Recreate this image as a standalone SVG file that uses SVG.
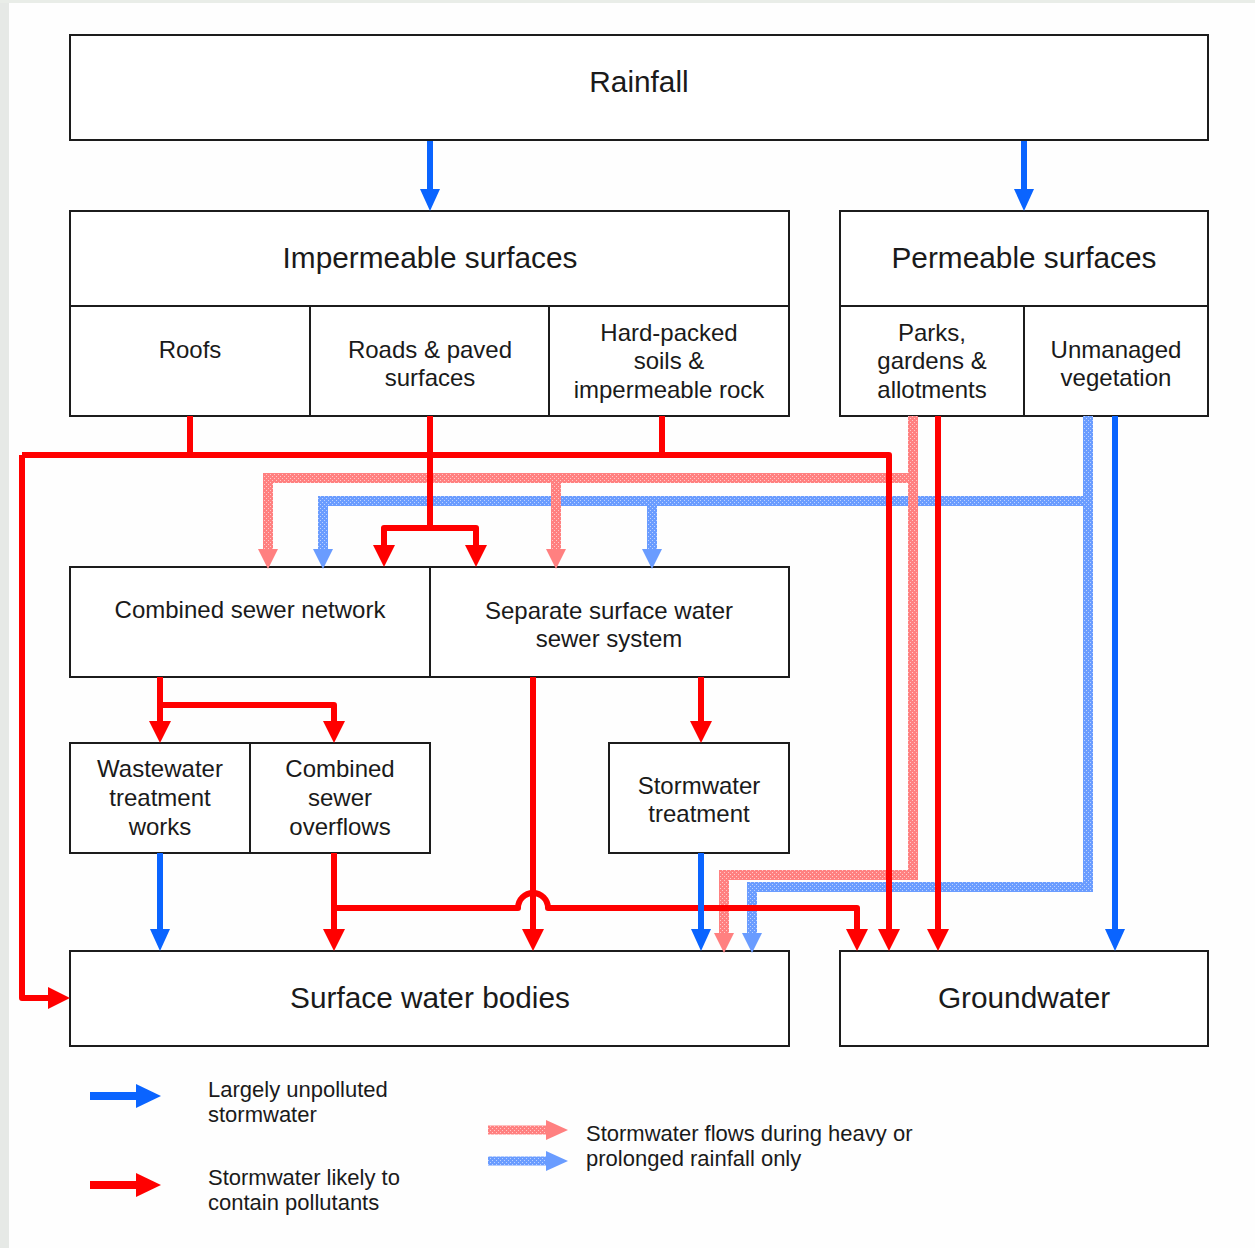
<svg xmlns="http://www.w3.org/2000/svg" width="1255" height="1248" viewBox="0 0 1255 1248">
<style>
.box{fill:#ffffff;stroke:#1c1c1c;stroke-width:2}
.div{stroke:#1c1c1c;stroke-width:2;fill:none}
text{font-family:"Liberation Sans",Arial,sans-serif;fill:#1a1a1a;text-anchor:middle}
.h{font-size:29.8px}
.s{font-size:24px}
.lg{font-size:22px;text-anchor:start}
.red{fill:none;stroke:#ff0000;stroke-width:6;stroke-linejoin:round}
.blue{fill:none;stroke:#0a64ff;stroke-width:6;stroke-linejoin:round}
.pink{fill:none;stroke:url(#pinkHatch);stroke-width:10;stroke-linejoin:miter}
.lblue{fill:none;stroke:url(#blueHatch);stroke-width:10;stroke-linejoin:miter}
</style>
<defs>
<pattern id="pinkHatch" width="4" height="4" patternUnits="userSpaceOnUse">
<rect width="4" height="4" fill="#ff8080"/>
<rect x="0" y="0" width="1" height="1" fill="#ffc8c8"/>
<rect x="2" y="2" width="1" height="1" fill="#ffc8c8"/>
</pattern>
<pattern id="blueHatch" width="4" height="4" patternUnits="userSpaceOnUse">
<rect width="4" height="4" fill="#6a9cff"/>
<rect x="0" y="0" width="1" height="1" fill="#bcd2ff"/>
<rect x="2" y="2" width="1" height="1" fill="#bcd2ff"/>
</pattern>
<marker id="aRed" viewBox="0 0 22 22" markerWidth="22" markerHeight="22" markerUnits="userSpaceOnUse" refX="10" refY="11" orient="auto">
<path d="M0,0 L22,11 L0,22 Z" fill="#ff0000"/>
</marker>
<marker id="aBlue" viewBox="0 0 22 22" markerWidth="22" markerHeight="22" markerUnits="userSpaceOnUse" refX="10" refY="11" orient="auto">
<path d="M0,1 L22,11 L0,21 Z" fill="#0a64ff"/>
</marker>
<marker id="aPink" viewBox="0 0 20 20" markerWidth="20" markerHeight="20" markerUnits="userSpaceOnUse" refX="8" refY="10" orient="auto">
<path d="M0,0 L20,10 L0,20 Z" fill="#ff8080"/>
</marker>
<marker id="aLBlue" viewBox="0 0 20 20" markerWidth="20" markerHeight="20" markerUnits="userSpaceOnUse" refX="8" refY="10" orient="auto">
<path d="M0,0 L20,10 L0,20 Z" fill="#6a9cff"/>
</marker>
</defs>

<rect width="1255" height="1248" fill="#fefefe"/>
<rect x="0" y="0" width="9" height="1248" fill="#e6e9e6"/>
<rect x="0" y="0" width="1255" height="3" fill="#e9ede8"/>

<g id="rainfall">
<rect class="box" x="70" y="35" width="1138" height="105"/>
<text class="h" x="639" y="92">Rainfall</text>
</g>

<g id="impermeable">
<rect class="box" x="70" y="211" width="719" height="205"/>
<path class="div" d="M70,306 H789 M310,306 V416 M549,306 V416"/>
<text class="h" x="430" y="268">Impermeable surfaces</text>
<g id="roofs"><text class="s" x="190" y="358">Roofs</text></g>
<g id="roads"><text class="s" x="430" y="358">Roads &amp; paved</text><text class="s" x="430" y="386">surfaces</text></g>
<g id="hardpacked"><text class="s" x="669" y="341">Hard-packed</text><text class="s" x="669" y="369">soils &amp;</text><text class="s" x="669" y="398">impermeable rock</text></g>
</g>

<g id="permeable">
<rect class="box" x="840" y="211" width="368" height="205"/>
<path class="div" d="M840,306 H1208 M1024,306 V416"/>
<text class="h" x="1024" y="268">Permeable surfaces</text>
<g id="parks"><text class="s" x="932" y="341">Parks,</text><text class="s" x="932" y="369">gardens &amp;</text><text class="s" x="932" y="398">allotments</text></g>
<g id="unmanaged"><text class="s" x="1116" y="358">Unmanaged</text><text class="s" x="1116" y="386">vegetation</text></g>
</g>

<g id="combined-sewer">
<rect class="box" x="70" y="567" width="360" height="110"/>
<text class="s" x="250" y="618">Combined sewer network</text>
</g>

<g id="separate-sewer">
<rect class="box" x="430" y="567" width="359" height="110"/>
<text class="s" x="609" y="619">Separate surface water</text>
<text class="s" x="609" y="647">sewer system</text>
</g>

<g id="wwtw">
<rect class="box" x="70" y="743" width="180" height="110"/>
<text class="s" x="160" y="777">Wastewater</text>
<text class="s" x="160" y="806">treatment</text>
<text class="s" x="160" y="835">works</text>
</g>

<g id="cso">
<rect class="box" x="250" y="743" width="180" height="110"/>
<text class="s" x="340" y="777">Combined</text>
<text class="s" x="340" y="806">sewer</text>
<text class="s" x="340" y="835">overflows</text>
</g>

<g id="stormwater-treatment">
<rect class="box" x="609" y="743" width="180" height="110"/>
<text class="s" x="699" y="794">Stormwater</text>
<text class="s" x="699" y="822">treatment</text>
</g>

<g id="surface-water">
<rect class="box" x="70" y="951" width="719" height="95"/>
<text class="h" x="430" y="1008">Surface water bodies</text>
</g>

<g id="groundwater">
<rect class="box" x="840" y="951" width="368" height="95"/>
<text class="h" x="1024" y="1008">Groundwater</text>
</g>

<g id="connectors">
<path class="lblue" d="M1088,416 V887 H752 V941" marker-end="url(#aLBlue)"/>
<path class="lblue" d="M1088,501 H323 V557" marker-end="url(#aLBlue)"/>
<path class="lblue" d="M652,501 V557" marker-end="url(#aLBlue)"/>
<path class="pink" d="M913,416 V875 H724 V941" marker-end="url(#aPink)"/>
<path class="pink" d="M913,478 H268 V557" marker-end="url(#aPink)"/>
<path class="pink" d="M556,478 V557" marker-end="url(#aPink)"/>
<path class="red" d="M190,416 V455"/>
<path class="red" d="M662,416 V455"/>
<path class="red" d="M22,455 H889 V939" marker-end="url(#aRed)"/>
<path class="red" d="M22,455 V998 H58" marker-end="url(#aRed)"/>
<path class="red" d="M430,416 V528"/>
<path class="red" d="M430,528 H384 V555" marker-end="url(#aRed)"/>
<path class="red" d="M430,528 H476 V555" marker-end="url(#aRed)"/>
<path class="red" d="M938,416 V939" marker-end="url(#aRed)"/>
<path class="red" d="M160,677 V731" marker-end="url(#aRed)"/>
<path class="red" d="M160,705 H334 V731" marker-end="url(#aRed)"/>
<path class="red" d="M533,677 V939" marker-end="url(#aRed)"/>
<path class="red" d="M701,677 V731" marker-end="url(#aRed)"/>
<path class="red" d="M334,853 V939" marker-end="url(#aRed)"/>
<path class="red" d="M334,908 H518 A15,15 0 0 1 548,908 H857 V939" marker-end="url(#aRed)"/>
<path class="blue" d="M430,141 V199" marker-end="url(#aBlue)"/>
<path class="blue" d="M1024,141 V199" marker-end="url(#aBlue)"/>
<path class="blue" d="M1115,416 V939" marker-end="url(#aBlue)"/>
<path class="blue" d="M160,853 V939" marker-end="url(#aBlue)"/>
<path class="blue" d="M701,853 V939" marker-end="url(#aBlue)"/>
</g>

<g id="legend">
<path d="M90,1096 H138" stroke="#0a64ff" stroke-width="8" fill="none"/>
<path d="M136,1084 L161,1096 L136,1108 Z" fill="#0a64ff"/>
<text class="lg" x="208" y="1097">Largely unpolluted</text>
<text class="lg" x="208" y="1122">stormwater</text>
<path d="M90,1185 H138" stroke="#ff0000" stroke-width="8" fill="none"/>
<path d="M136,1173 L161,1185 L136,1197 Z" fill="#ff0000"/>
<text class="lg" x="208" y="1185">Stormwater likely to</text>
<text class="lg" x="208" y="1210">contain pollutants</text>
<path d="M488,1130 H550" stroke="url(#pinkHatch)" stroke-width="9" fill="none"/>
<path d="M546,1120 L568,1130 L546,1140 Z" fill="#ff8080"/>
<path d="M488,1161 H550" stroke="url(#blueHatch)" stroke-width="9" fill="none"/>
<path d="M546,1151 L568,1161 L546,1171 Z" fill="#6a9cff"/>
<text class="lg" x="586" y="1141">Stormwater flows during heavy or</text>
<text class="lg" x="586" y="1166">prolonged rainfall only</text>
</g>
</svg>
